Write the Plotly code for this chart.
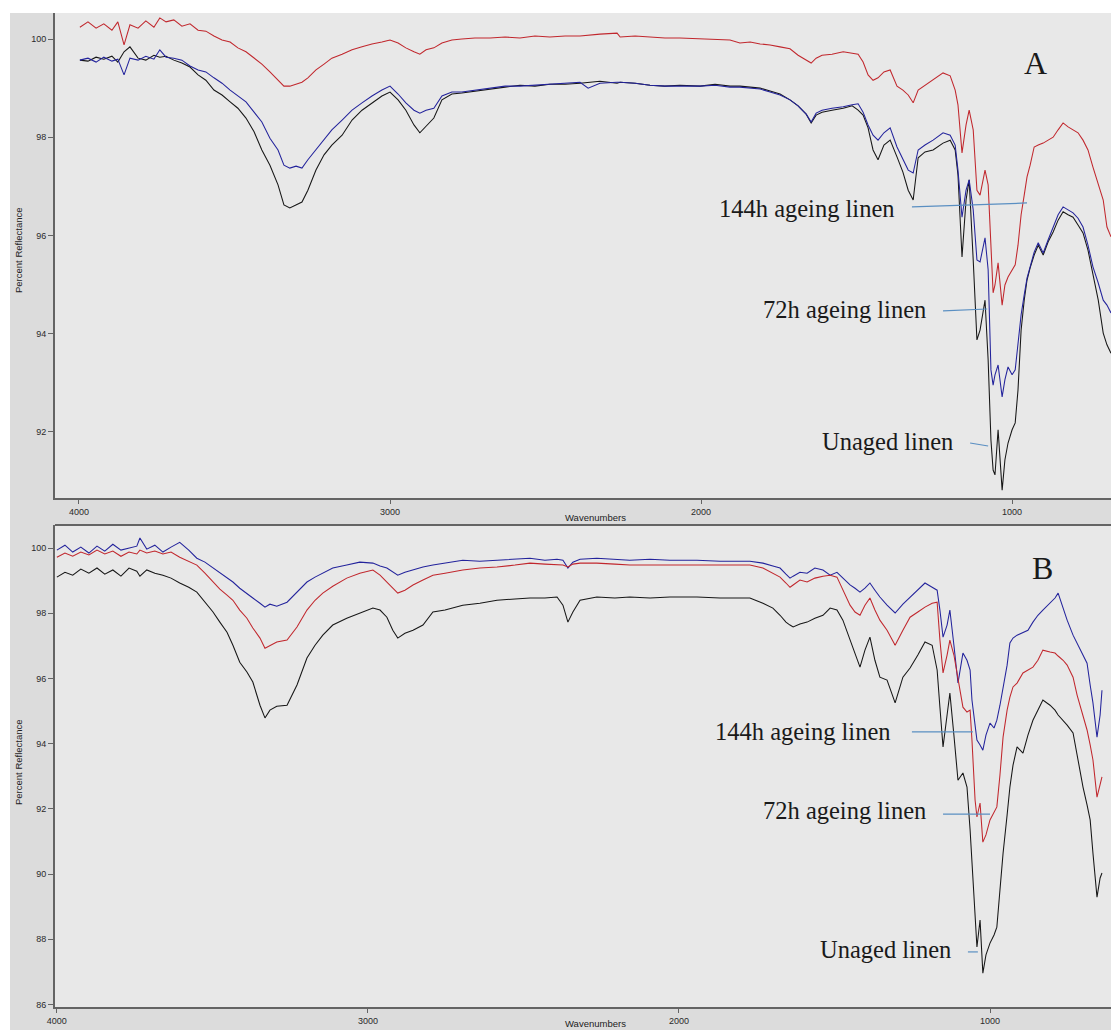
import plotly.graph_objects as go

# ---------------- Panel A data (wavenumber, percent reflectance) ----------------
wn_A = [3997,3971,3945,3920,3894,3875,3855,3836,3810,3785,
        3759,3740,3720,3695,3669,3643,3617,3592,3566,3540,
        3514,3489,3463,3437,3412,3386,3360,3341,3322,3302,
        3283,3264,3238,3212,3187,3154,3122,3090,3058,3026,
        3000,2974,2949,2923,2904,2884,2859,2833,2801,2769,
        2727,2678,2630,2582,2534,2486,2437,2389,2363,2325,
        2270,2260,2212,2164,2116,2068,2003,1955,1907,1875,
        1842,1810,1778,1746,1714,1688,1662,1646,1630,1611,
        1579,1543,1514,1495,1479,1463,1447,1431,1412,1392,
        1370,1351,1334,1318,1302,1280,1254,1222,1199,1183,
        1174,1161,1148,1138,1125,1113,1103,1087,1077,1068,
        1061,1055,1045,1032,1023,1013,1000,990,981,971,
        961,952,942,929,916,900,884,868,852,836,
        820,804,788,772,756,740,723,707,695,682]

aged144_A = [100.24,100.35,100.22,100.31,100.18,100.35,99.88,100.29,100.22,100.37,
             100.24,100.43,100.35,100.39,100.26,100.31,100.18,100.16,100.06,99.98,
             99.94,99.82,99.74,99.61,99.49,99.33,99.16,99.04,99.04,99.08,
             99.12,99.21,99.37,99.49,99.61,99.69,99.78,99.84,99.90,99.94,
             99.98,99.92,99.82,99.74,99.69,99.78,99.82,99.92,99.98,100.00,
             100.02,100.02,100.04,100.02,100.06,100.04,100.06,100.06,100.08,100.10,
             100.12,100.04,100.06,100.04,100.02,100.02,100.00,99.98,99.98,99.92,
             99.94,99.90,99.88,99.84,99.80,99.67,99.57,99.51,99.61,99.67,
             99.69,99.74,99.71,99.69,99.53,99.27,99.16,99.21,99.33,99.37,
             99.04,98.96,98.86,98.70,98.96,99.06,99.16,99.31,99.25,98.96,
             98.66,97.68,98.25,98.55,98.15,96.92,96.82,97.33,97.03,95.70,
             94.83,94.99,95.44,94.58,94.99,95.15,95.30,95.40,95.80,96.42,
             96.82,97.19,97.43,97.80,97.84,97.88,97.94,98.00,98.15,98.29,
             98.21,98.15,98.09,97.94,97.74,97.39,97.03,96.72,96.17,95.97]

aged72_A = [99.57,99.61,99.53,99.63,99.55,99.59,99.27,99.61,99.57,99.65,
            99.59,99.78,99.63,99.61,99.57,99.45,99.37,99.33,99.21,99.10,
            98.96,98.84,98.72,98.51,98.31,97.98,97.74,97.43,97.37,97.41,
            97.37,97.54,97.74,97.94,98.15,98.35,98.55,98.70,98.84,98.96,
            99.04,98.88,98.70,98.55,98.49,98.55,98.59,98.84,98.92,98.92,
            98.96,99.00,99.04,99.04,99.06,99.08,99.10,99.12,99.00,99.10,
            99.12,99.12,99.10,99.06,99.04,99.04,99.04,99.06,99.02,99.02,
            99.00,98.98,98.92,98.86,98.76,98.64,98.47,98.31,98.49,98.55,
            98.59,98.62,98.66,98.68,98.51,98.25,98.04,97.94,98.09,98.19,
            97.80,97.54,97.33,97.27,97.74,97.84,97.94,98.09,98.04,97.84,
            97.33,96.37,96.92,97.13,96.52,95.50,95.46,95.95,95.30,93.26,
            92.95,93.16,93.36,92.71,93.06,93.32,93.16,93.26,93.77,94.38,
            94.79,95.13,95.36,95.66,95.85,95.64,95.91,96.17,96.42,96.58,
            96.52,96.46,96.35,96.17,95.80,95.36,95.03,94.68,94.58,94.42]

unaged_A = [99.57,99.55,99.63,99.59,99.65,99.53,99.74,99.84,99.61,99.57,
            99.67,99.63,99.65,99.57,99.51,99.43,99.27,99.16,98.96,98.86,
            98.72,98.59,98.39,98.11,97.74,97.43,97.03,96.62,96.56,96.62,
            96.68,96.92,97.33,97.64,97.84,98.04,98.35,98.55,98.70,98.84,
            98.92,98.76,98.55,98.25,98.09,98.23,98.39,98.76,98.88,98.90,
            98.94,98.98,99.02,99.06,99.04,99.08,99.08,99.10,99.12,99.14,
            99.10,99.12,99.10,99.06,99.04,99.06,99.04,99.08,99.04,99.04,
            99.02,99.00,98.94,98.88,98.76,98.64,98.47,98.29,98.45,98.51,
            98.55,98.59,98.64,98.55,98.45,98.19,97.74,97.54,97.84,97.94,
            97.60,97.29,96.92,96.72,97.58,97.70,97.74,97.88,97.94,97.74,
            97.23,95.56,96.72,97.13,95.50,93.87,94.07,94.68,93.46,91.83,
            91.22,91.12,92.04,90.81,91.43,91.77,92.04,92.18,92.85,94.07,
            94.68,95.09,95.34,95.60,95.80,95.60,95.87,96.07,96.31,96.48,
            96.42,96.37,96.21,96.05,95.70,95.23,94.68,94.01,93.77,93.60]

# ---------------- Panel B data ----------------
wn_B = [4000,3974,3949,3923,3897,3871,3846,3820,3794,3768,
        3743,3733,3711,3685,3659,3633,3605,3576,3550,3524,
        3498,3476,3453,3434,3412,3389,3370,3347,3331,3315,
        3293,3260,3228,3196,3170,3145,3113,3068,3026,2984,
        2961,2939,2920,2904,2881,2855,2823,2791,2752,2695,
        2640,2585,2527,2479,2431,2392,2373,2357,2341,2318,
        2264,2206,2158,2093,2029,1942,1868,1772,1730,1698,
        1675,1656,1643,1633,1611,1588,1563,1537,1514,1492,
        1473,1450,1434,1418,1402,1386,1370,1354,1331,1305,
        1280,1257,1232,1209,1186,1170,1161,1151,1138,1129,
        1116,1103,1087,1074,1064,1058,1048,1042,1032,1023,
        1013,1000,987,978,968,958,945,936,926,913,
        894,878,862,846,830,807,791,781,765,752,
        733,720,701,688,678,669,656,646,640]

aged144_B = [99.94,100.09,99.88,100.03,99.85,100.06,99.91,100.12,99.94,100.00,
             100.06,100.31,99.97,100.09,99.88,100.03,100.18,99.94,99.69,99.57,
             99.39,99.26,99.08,98.96,98.77,98.62,98.47,98.31,98.19,98.28,
             98.22,98.34,98.65,98.96,99.11,99.23,99.39,99.48,99.57,99.54,
             99.45,99.39,99.26,99.17,99.26,99.33,99.42,99.48,99.54,99.63,
             99.60,99.63,99.66,99.69,99.63,99.66,99.63,99.39,99.57,99.66,
             99.69,99.66,99.63,99.66,99.63,99.63,99.60,99.60,99.54,99.45,
             99.39,99.20,99.08,99.14,99.26,99.23,99.39,99.33,99.17,99.26,
             99.08,98.87,98.77,98.65,98.77,98.93,98.71,98.50,98.25,98.01,
             98.28,98.50,98.71,98.93,98.80,98.71,98.10,97.27,97.64,98.10,
             97.02,95.86,96.78,96.56,96.26,95.34,94.57,94.11,93.96,93.80,
             94.26,94.63,94.48,94.72,95.18,95.74,96.41,97.09,97.24,97.33,
             97.42,97.48,97.73,97.94,98.10,98.31,98.47,98.62,98.16,97.79,
             97.33,97.09,96.72,96.47,95.80,95.25,94.20,94.88,95.64]

aged72_B = [99.72,99.85,99.75,99.88,99.79,99.94,99.82,99.91,99.75,99.88,
            99.82,99.94,99.85,99.91,99.82,99.88,99.72,99.60,99.48,99.23,
            98.96,98.74,98.56,98.40,98.10,97.85,97.55,97.24,96.93,97.02,
            97.12,97.18,97.58,98.10,98.40,98.62,98.83,99.08,99.23,99.33,
            99.17,98.96,98.77,98.62,98.71,98.87,99.02,99.17,99.23,99.33,
            99.39,99.42,99.48,99.54,99.51,99.48,99.48,99.42,99.51,99.54,
            99.54,99.51,99.48,99.48,99.48,99.48,99.48,99.48,99.39,99.23,
            99.11,98.93,98.80,98.87,99.02,98.96,99.08,99.14,99.17,99.11,
            98.71,98.25,98.04,97.94,98.25,98.47,98.10,97.79,97.48,97.02,
            97.48,97.88,98.04,98.19,98.31,98.34,97.18,96.17,96.72,97.18,
            96.72,96.04,95.12,94.97,95.03,94.11,92.27,91.75,92.18,90.98,
            91.20,91.66,91.90,92.06,93.04,94.20,95.03,95.43,95.74,95.86,
            96.17,96.26,96.35,96.56,96.87,96.81,96.78,96.69,96.56,96.41,
            96.04,95.49,94.88,94.42,93.96,93.50,92.36,92.73,92.98]

unaged_B = [99.11,99.26,99.17,99.36,99.23,99.39,99.20,99.33,99.14,99.39,
            99.29,99.14,99.33,99.23,99.17,99.08,98.93,98.80,98.65,98.34,
            98.04,97.73,97.42,97.02,96.50,96.20,95.89,95.18,94.79,95.03,
            95.15,95.18,95.80,96.63,97.02,97.33,97.64,97.85,98.01,98.16,
            98.10,97.88,97.48,97.24,97.39,97.48,97.64,98.04,98.10,98.25,
            98.31,98.40,98.44,98.47,98.47,98.50,98.25,97.73,98.04,98.40,
            98.50,98.47,98.50,98.47,98.50,98.50,98.47,98.47,98.31,98.16,
            97.94,97.73,97.64,97.58,97.67,97.73,97.85,97.94,98.16,98.10,
            97.79,97.18,96.72,96.35,96.87,97.27,96.56,96.04,95.95,95.25,
            96.04,96.32,96.72,97.12,97.02,96.26,95.12,93.90,94.88,95.55,
            94.26,92.88,93.10,92.67,91.35,90.34,88.90,87.76,88.59,86.96,
            87.52,87.88,88.13,88.37,89.51,90.64,91.81,92.67,93.34,93.90,
            93.71,94.26,94.72,95.03,95.34,95.18,95.03,94.88,94.72,94.57,
            94.33,93.65,92.67,92.12,91.66,90.64,89.29,89.88,90.03]

x_ticks = [4000, 3000, 2000, 1000]
y_ticks_A = [92, 94, 96, 98, 100]
y_ticks_B = [86, 88, 90, 92, 94, 96, 98, 100]
series_names = ["Unaged linen", "72h ageing linen", "144h ageing linen"]

C_RED = "#c1272d"
C_BLUE = "#23239c"
C_BLACK = "#161616"
C_POINTER = "#5a8fc2"
C_OUTER = "#dcdcdc"
C_PLOT = "#e8e8e8"
C_AXIS = "#646464"

W, H = 1111, 1030

def px(v):  # horizontal pixel -> paper fraction
    return v / W

def py(v):  # vertical pixel (from top) -> paper fraction
    return 1 - v / H

fig = go.Figure()

def add_panel(wn, series, xa, ya):
    for name, vals, col in series:
        fig.add_trace(go.Scatter(x=wn, y=vals, mode="lines", name=name,
                                 line=dict(color=col, width=1.05),
                                 xaxis=xa, yaxis=ya, showlegend=False))

add_panel(wn_A, [(series_names[0], unaged_A, C_BLACK),
                 (series_names[1], aged72_A, C_BLUE),
                 (series_names[2], aged144_A, C_RED)], "x", "y")
add_panel(wn_B, [(series_names[0], unaged_B, C_BLACK),
                 (series_names[2], aged144_B, C_BLUE),
                 (series_names[1], aged72_B, C_RED)], "x2", "y2")

axis_common = dict(showgrid=False, zeroline=False, showline=True,
                   linecolor=C_AXIS, linewidth=2, ticks="outside",
                   tickcolor=C_AXIS, tickwidth=1.3, automargin=False,
                   tickfont=dict(family="Liberation Sans, Arial, sans-serif",
                                 size=9, color="#2a2a2a"))

xdom = [px(55), 1.0]
ydomA = [py(498), py(13)]
ydomB = [py(1007), py(525)]

fig.update_layout(
    width=W, height=H, autosize=False,
    margin=dict(l=0, r=0, t=0, b=0, pad=0),
    paper_bgcolor=C_OUTER,
    plot_bgcolor=C_PLOT,
    xaxis=dict(domain=xdom, range=[4077, 682], anchor="y",
               tickvals=x_ticks, ticklen=4, **axis_common),
    yaxis=dict(domain=ydomA, range=[90.65, 100.53], anchor="x",
               tickvals=y_ticks_A, ticklen=5, **axis_common),
    xaxis2=dict(domain=xdom, range=[4006, 611], anchor="y2",
                tickvals=x_ticks, ticklen=4, **axis_common),
    yaxis2=dict(domain=ydomB, range=[85.92, 100.71], anchor="x2",
                tickvals=y_ticks_B, ticklen=5, **axis_common),
)

# white page strips (top and left) and top border of panel B
fig.add_shape(type="rect", xref="paper", yref="paper", x0=0, x1=1,
              y0=py(13), y1=1, fillcolor="white", line_width=0, layer="below")
fig.add_shape(type="rect", xref="paper", yref="paper", x0=0, x1=px(10),
              y0=0, y1=1, fillcolor="white", line_width=0, layer="below")
fig.add_shape(type="line", xref="paper", yref="paper", x0=px(55), x1=1.0,
              y0=py(525), y1=py(525), line=dict(color=C_AXIS, width=2))

serif = dict(family="Liberation Serif, Times New Roman, serif", size=24.5, color="#1a1a1a")

def label(xa, ya, x, y, text, size=24.5, anchor="right"):
    f = dict(serif)
    f["size"] = size
    fig.add_annotation(xref=xa, yref=ya, x=x, y=y, text=text, showarrow=False,
                       xanchor=anchor, yanchor="middle", font=f)

def pointer(xa, ya, x0, y0, x1, y1):
    fig.add_shape(type="line", xref=xa, yref=ya, x0=x0, y0=y0, x1=x1, y1=y1,
                  line=dict(color=C_POINTER, width=1.2))

# Panel A labels
label("x", "y", 1370, 96.54, "144h ageing linen")
label("x", "y", 1270, 94.50, "72h ageing linen")
label("x", "y", 1183, 91.81, "Unaged linen")
label("x", "y", 926, 99.51, "A", size=32, anchor="center")
pointer("x", "y", 1322, 96.58, 952, 96.66)
pointer("x", "y", 1222, 94.46, 1080, 94.50)
pointer("x", "y", 1135, 91.77, 1077, 91.71)

# Panel B labels
label("x2", "y2", 1312, 94.36, "144h ageing linen")
label("x2", "y2", 1199, 91.96, "72h ageing linen")
label("x2", "y2", 1119, 87.67, "Unaged linen")
label("x2", "y2", 830, 99.39, "B", size=32, anchor="center")
pointer("x2", "y2", 1251, 94.36, 1055, 94.36)
pointer("x2", "y2", 1151, 91.84, 1000, 91.84)
pointer("x2", "y2", 1071, 87.61, 1039, 87.61)

# axis titles
small = dict(family="Liberation Sans, Arial, sans-serif", size=9.5, color="#222222")
for yc in (517, 1023):
    fig.add_annotation(xref="paper", yref="paper", x=px(595), y=py(yc),
                       text="Wavenumbers", showarrow=False, font=small,
                       xanchor="center", yanchor="middle")
for yc in (250, 762):
    fig.add_annotation(xref="paper", yref="paper", x=px(18), y=py(yc),
                       text="Percent Reflectance", showarrow=False, font=small,
                       textangle=-90, xanchor="center", yanchor="middle")

# remove the default 8px page margin so the figure fills the window exactly
fig.write_html("out.html",
               config={"displayModeBar": False},
               post_script="document.body.style.margin='0';"
                           "document.body.style.overflow='hidden';")
